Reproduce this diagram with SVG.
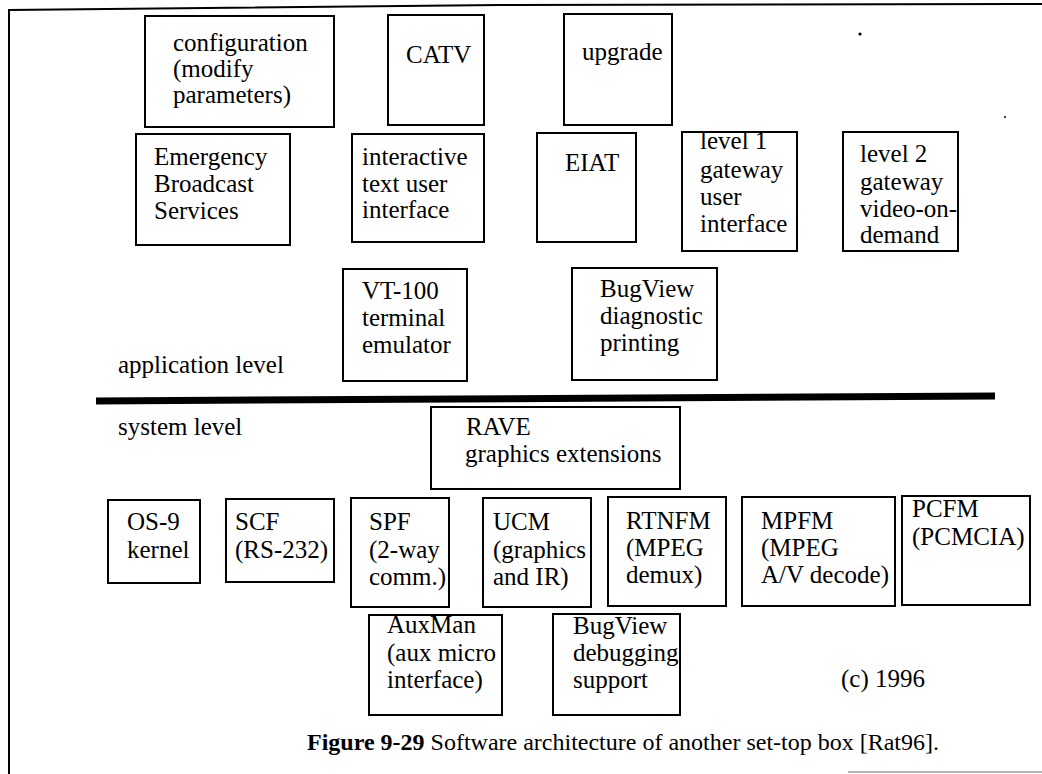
<svg xmlns="http://www.w3.org/2000/svg" width="1042" height="774" viewBox="0 0 1042 774">
  <style>
    text { font-family: "Liberation Serif", "Times New Roman", serif; font-size: 25px; fill: #000; }
    .box { fill: #fff; stroke: #000; stroke-width: 2; }
    .cap { font-size: 24px; }
    .bold { font-weight: bold; }
  </style>
  <rect width="1042" height="774" fill="#fff"/>

  <!-- page frame and the application/system divider -->
  <g id="frame" stroke="#000" fill="none">
    <polyline points="8,10 500,5 1042,4" stroke-width="2"/>
    <line x1="9" y1="9" x2="9" y2="774" stroke-width="2"/>
    <line x1="96" y1="401" x2="995" y2="396" stroke-width="7"/>
    <line x1="848" y1="772" x2="1042" y2="772" stroke="#9a9a9a" stroke-width="1.5"/>
    <circle cx="860" cy="34" r="1.6" fill="#000" stroke="none"/>
    <circle cx="1005" cy="117" r="1" fill="#000" stroke="none"/>
  </g>

  <g id="connectors"></g>

  <!-- application level -->
  <g id="configuration">
    <rect class="box" x="145" y="16" width="189" height="111"/>
    <text x="173" y="51">configuration</text>
    <text x="173" y="77">(modify</text>
    <text x="173" y="103">parameters)</text>
  </g>
  <g id="catv">
    <rect class="box" x="388" y="15" width="96" height="110"/>
    <text x="406" y="63">CATV</text>
  </g>
  <g id="upgrade">
    <rect class="box" x="564" y="14" width="108" height="111"/>
    <text x="582" y="60">upgrade</text>
  </g>
  <g id="emergency">
    <rect class="box" x="136" y="134" width="154" height="111"/>
    <text x="154" y="165">Emergency</text>
    <text x="154" y="192">Broadcast</text>
    <text x="154" y="219">Services</text>
  </g>
  <g id="text-ui">
    <rect class="box" x="352" y="134" width="132" height="108"/>
    <text x="362" y="165">interactive</text>
    <text x="362" y="192">text user</text>
    <text x="362" y="218">interface</text>
  </g>
  <g id="eiat">
    <rect class="box" x="537" y="133" width="99" height="109"/>
    <text x="565" y="171">EIAT</text>
  </g>
  <g id="gateway-1">
    <rect class="box" x="682" y="132" width="115" height="119"/>
    <text x="700" y="149">level 1</text>
    <text x="700" y="178">gateway</text>
    <text x="700" y="205">user</text>
    <text x="700" y="232">interface</text>
  </g>
  <g id="gateway-2">
    <rect class="box" x="843" y="132" width="115" height="119"/>
    <text x="860" y="162">level 2</text>
    <text x="860" y="190">gateway</text>
    <text x="860" y="217">video-on-</text>
    <text x="860" y="243">demand</text>
  </g>
  <g id="vt100">
    <rect class="box" x="343" y="269" width="124" height="112"/>
    <text x="362" y="299">VT-100</text>
    <text x="362" y="326">terminal</text>
    <text x="362" y="353">emulator</text>
  </g>
  <g id="bugview-print">
    <rect class="box" x="572" y="268" width="145" height="112"/>
    <text x="600" y="297">BugView</text>
    <text x="600" y="324">diagnostic</text>
    <text x="600" y="351">printing</text>
  </g>
  <g id="label-app">
    <text x="118" y="373">application level</text>
  </g>

  <!-- system level -->
  <g id="label-sys">
    <text x="118" y="435">system level</text>
  </g>
  <g id="rave">
    <rect class="box" x="431" y="407" width="249" height="82"/>
    <text x="466" y="435">RAVE</text>
    <text x="465" y="462">graphics extensions</text>
  </g>
  <g id="os9">
    <rect class="box" x="108" y="500" width="92" height="83"/>
    <text x="127" y="530">OS-9</text>
    <text x="127" y="558">kernel</text>
  </g>
  <g id="scf">
    <rect class="box" x="226" y="499" width="108" height="83"/>
    <text x="235" y="530">SCF</text>
    <text x="235" y="558">(RS-232)</text>
  </g>
  <g id="spf">
    <rect class="box" x="351" y="498" width="98" height="109"/>
    <text x="369" y="530">SPF</text>
    <text x="369" y="558">(2-way</text>
    <text x="369" y="585">comm.)</text>
  </g>
  <g id="ucm">
    <rect class="box" x="483" y="498" width="108" height="109"/>
    <text x="493" y="530">UCM</text>
    <text x="493" y="558">(graphics</text>
    <text x="493" y="585">and IR)</text>
  </g>
  <g id="rtnfm">
    <rect class="box" x="608" y="497" width="118" height="109"/>
    <text x="626" y="529">RTNFM</text>
    <text x="626" y="556">(MPEG</text>
    <text x="626" y="583">demux)</text>
  </g>
  <g id="mpfm">
    <rect class="box" x="742" y="497" width="153" height="109"/>
    <text x="761" y="529">MPFM</text>
    <text x="761" y="556">(MPEG</text>
    <text x="761" y="583">A/V decode)</text>
  </g>
  <g id="pcfm">
    <rect class="box" x="902" y="496" width="128" height="109"/>
    <text x="912" y="517">PCFM</text>
    <text x="912" y="545">(PCMCIA)</text>
  </g>
  <g id="auxman">
    <rect class="box" x="369" y="615" width="133" height="100"/>
    <text x="387" y="633">AuxMan</text>
    <text x="387" y="661">(aux micro</text>
    <text x="387" y="688">interface)</text>
  </g>
  <g id="bugview-debug">
    <rect class="box" x="553" y="614" width="127" height="101"/>
    <text x="573" y="634">BugView</text>
    <text x="573" y="661">debugging</text>
    <text x="573" y="688">support</text>
  </g>
  <g id="copyright">
    <text x="841" y="687">(c) 1996</text>
  </g>
  <g id="caption">
    <text class="cap" x="307" y="750"><tspan class="bold">Figure 9-29</tspan> Software architecture of another set-top box [Rat96].</text>
  </g>
</svg>
